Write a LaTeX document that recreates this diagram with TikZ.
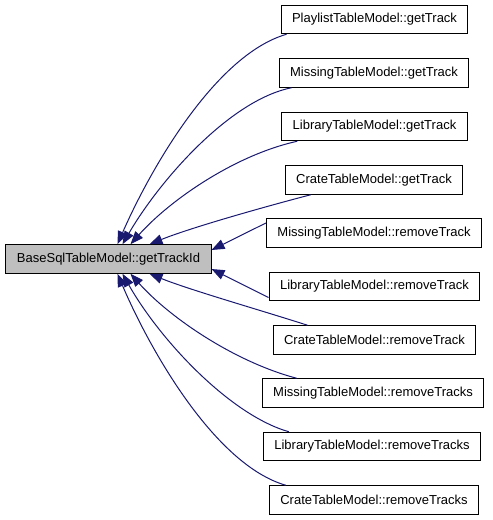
\documentclass[tikz,border=0pt]{standalone}
\usepackage{fontspec}
\setmainfont{Liberation Sans}
\usetikzlibrary{arrows.meta}
\definecolor{edgeblue}{RGB}{25,25,112}
\definecolor{focusgray}{RGB}{191,191,191}
\begin{document}
\begin{tikzpicture}[x=1pt,y=-1pt,
  fn/.style={draw=black, line width=1pt, minimum height=28.5pt, inner xsep=11pt, inner ysep=0pt, font=\fontsize{13}{15}\selectfont, fill=white},
  focus/.style={fn, fill=focusgray},
  call/.style={draw=edgeblue, line width=1pt, -{Triangle[length=13pt,width=10pt,fill=edgeblue]}}]
\useasboundingbox (0,0) rectangle (493,520);
\node[focus] (L) at (108.5,259) {BaseSqlTableModel::getTrackId};
\node[fn] (n1) at (374.5,19.5) {PlaylistTableModel::getTrack};
\node[fn] (n2) at (374,73) {MissingTableModel::getTrack};
\node[fn] (n3) at (374.5,126.5) {LibraryTableModel::getTrack};
\node[fn] (n4) at (374,180) {CrateTableModel::getTrack};
\node[fn] (n5) at (374,233) {MissingTableModel::removeTrack};
\node[fn] (n6) at (374.5,286.5) {LibraryTableModel::removeTrack};
\node[fn] (n7) at (374.5,340) {CrateTableModel::removeTrack};
\node[fn] (n8) at (373,393) {MissingTableModel::removeTracks};
\node[fn] (n9) at (372,446.5) {LibraryTableModel::removeTracks};
\node[fn] (n10) at (374,500) {CrateTableModel::removeTracks};
\draw[call] ([xshift=6pt]n1.south west) .. controls (215,55) and (150,170) .. ([xshift=112pt]L.north west);
\draw[call] ([xshift=13pt]n2.south west) .. controls (230,100) and (160,180) .. ([xshift=117pt]L.north west);
\draw[call] ([xshift=16pt]n3.south west) .. controls (235,155) and (170,200) .. ([xshift=125pt]L.north west);
\draw[call] ([xshift=26pt]n4.south west) .. controls (260,208) and (190,228) .. ([xshift=144pt]L.north west);
\draw[call] ([yshift=10pt]n5.west) -- ([yshift=9pt]L.east);
\draw[call] ([yshift=-11pt]n6.west) -- ([yshift=-10pt]L.east);
\draw[call] ([xshift=35pt]n7.north west) .. controls (260,310) and (190,290) .. ([xshift=144pt]L.south west);
\draw[call] ([xshift=35pt]n8.north west) .. controls (235,362) and (170,318) .. ([xshift=125pt]L.south west);
\draw[call] ([xshift=26pt]n9.north west) .. controls (230,415) and (160,340) .. ([xshift=117pt]L.south west);
\draw[call] ([xshift=17pt]n10.north west) .. controls (215,465) and (150,350) .. ([xshift=112pt]L.south west);
\end{tikzpicture}
\end{document}
